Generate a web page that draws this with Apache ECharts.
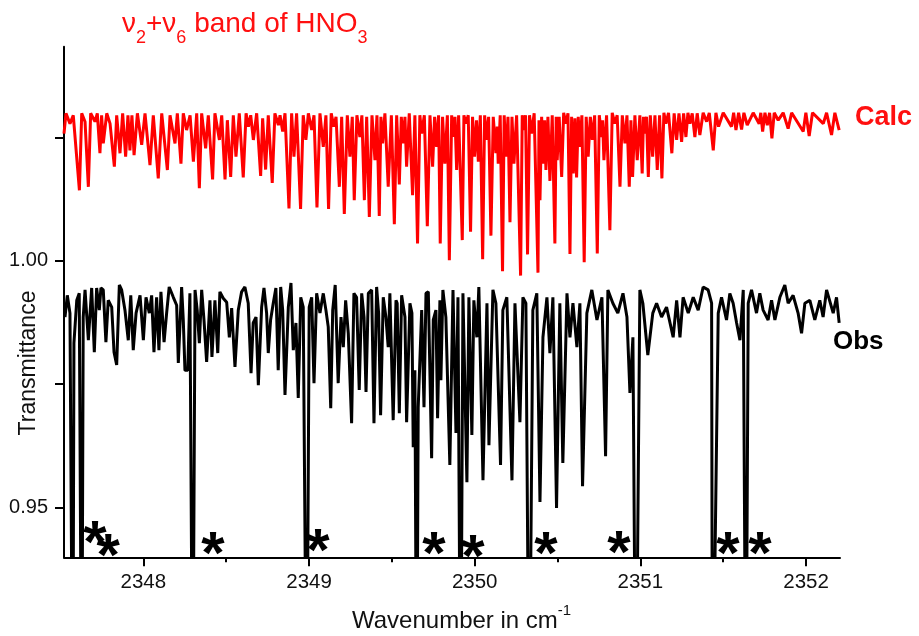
<!DOCTYPE html>
<html>
<head>
<meta charset="utf-8">
<script src="https://cdn.jsdelivr.net/npm/echarts@6/dist/echarts.min.js"></script>
<style>
html,body{margin:0;padding:0;background:#fff;}
#chart{width:919px;height:636px;}
</style>
</head>
<body>
<div id="chart"></div>
<script>
// ---- data (wavenumber in cm-1, transmittance) ----
const xMajorTicks = [2348, 2349, 2350, 2351, 2352];
const xMinorTicks = [2348.5, 2349.5, 2350.5, 2351.5];
const yTicks = [0.95, 0.975, 1.0, 1.025];
const yTickLabels = [0.95, 1.0];

const calcSpectrum = [
[2347.521,1.0258],[2347.533,1.0299],[2347.557,1.0278],[2347.577,1.0295],[2347.614,1.0143],[2347.628,1.0299],[2347.648,1.0282],[2347.668,1.0150],
[2347.682,1.0299],[2347.708,1.0282],[2347.722,1.0299],[2347.738,1.0218],[2347.748,1.0295],[2347.758,1.0238],[2347.779,1.0299],[2347.799,1.0278],
[2347.825,1.0191],[2347.839,1.0295],[2347.859,1.0218],[2347.875,1.0299],[2347.893,1.0211],[2347.907,1.0295],[2347.919,1.0224],[2347.931,1.0295],
[2347.944,1.0214],[2347.964,1.0299],[2347.990,1.0235],[2348.010,1.0299],[2348.040,1.0194],[2348.060,1.0295],[2348.090,1.0167],[2348.111,1.0299],
[2348.145,1.0184],[2348.161,1.0295],[2348.191,1.0238],[2348.205,1.0299],[2348.227,1.0197],[2348.241,1.0299],[2348.261,1.0265],[2348.282,1.0295],
[2348.302,1.0201],[2348.322,1.0299],[2348.338,1.0147],[2348.352,1.0299],[2348.376,1.0228],[2348.392,1.0295],[2348.418,1.0165],[2348.432,1.0299],
[2348.459,1.0245],[2348.473,1.0295],[2348.493,1.0165],[2348.507,1.0285],[2348.527,1.0170],[2348.543,1.0295],[2348.559,1.0211],[2348.579,1.0299],
[2348.603,1.0169],[2348.620,1.0299],[2348.634,1.0272],[2348.648,1.0295],[2348.664,1.0245],[2348.684,1.0299],[2348.708,1.0172],[2348.720,1.0289],
[2348.738,1.0185],[2348.754,1.0295],[2348.778,1.0158],[2348.794,1.0299],[2348.815,1.0275],[2348.825,1.0295],[2348.841,1.0262],[2348.855,1.0299],
[2348.879,1.0106],[2348.895,1.0299],[2348.909,1.0211],[2348.925,1.0299],[2348.949,1.0105],[2348.965,1.0295],[2348.981,1.0245],[2348.996,1.0299],
[2349.016,1.0265],[2349.030,1.0295],[2349.048,1.0108],[2349.066,1.0299],[2349.086,1.0231],[2349.102,1.0295],[2349.118,1.0105],[2349.134,1.0299],
[2349.150,1.0272],[2349.163,1.0292],[2349.183,1.0150],[2349.197,1.0292],[2349.213,1.0095],[2349.231,1.0295],[2349.247,1.0211],[2349.261,1.0292],
[2349.273,1.0123],[2349.289,1.0295],[2349.307,1.0251],[2349.319,1.0295],[2349.334,1.0123],[2349.348,1.0292],[2349.364,1.0089],[2349.380,1.0295],
[2349.398,1.0204],[2349.410,1.0295],[2349.424,1.0091],[2349.434,1.0292],[2349.444,1.0238],[2349.458,1.0299],[2349.478,1.0150],[2349.497,1.0295],
[2349.515,1.0074],[2349.529,1.0295],[2349.545,1.0155],[2349.557,1.0292],[2349.569,1.0238],[2349.579,1.0292],[2349.589,1.0191],[2349.605,1.0299],
[2349.625,1.0133],[2349.639,1.0295],[2349.655,1.0035],[2349.669,1.0295],[2349.680,1.0258],[2349.696,1.0295],[2349.714,1.0070],[2349.730,1.0295],
[2349.746,1.0191],[2349.758,1.0292],[2349.770,1.0231],[2349.782,1.0295],[2349.792,1.0035],[2349.806,1.0292],[2349.820,1.0197],[2349.835,1.0295],
[2349.847,1.0001],[2349.861,1.0295],[2349.871,1.0251],[2349.881,1.0292],[2349.891,1.0184],[2349.903,1.0295],
[2349.925,1.0042],[2349.935,1.0295],[2349.947,1.0278],[2349.961,1.0295],[2349.975,1.0059],[2349.987,1.0292],[2349.999,1.0211],[2350.011,1.0285],
[2350.022,1.0201],[2350.034,1.0295],[2350.048,1.0003],[2350.060,1.0295],[2350.072,1.0245],[2350.084,1.0292],[2350.098,1.0051],[2350.112,1.0292],
[2350.128,1.0218],[2350.136,1.0272],[2350.142,1.0197],[2350.154,1.0295],[2350.168,0.9979],[2350.178,1.0295],[2350.189,1.0211],[2350.201,1.0292],
[2350.213,1.0078],[2350.225,1.0292],[2350.237,1.0197],[2350.253,1.0295],[2350.277,0.9970],[2350.287,1.0295],[2350.297,1.0265],[2350.307,1.0295],
[2350.319,1.0013],[2350.331,1.0295],[2350.343,1.0258],[2350.359,1.0299],[2350.382,0.9976],[2350.388,1.0285],[2350.394,1.0123],[2350.404,1.0292],
[2350.414,1.0197],[2350.422,1.0285],[2350.430,1.0184],[2350.442,1.0292],[2350.454,1.0162],[2350.468,1.0295],[2350.484,1.0035],[2350.492,1.0292],
[2350.498,1.0204],[2350.510,1.0292],[2350.525,1.0170],[2350.537,1.0300],[2350.551,1.0278],[2350.563,1.0299],[2350.575,1.0014],[2350.585,1.0292],
[2350.595,1.0177],[2350.605,1.0289],[2350.615,1.0169],[2350.625,1.0292],[2350.635,1.0231],[2350.647,1.0295],[2350.661,0.9997],[2350.673,1.0292],
[2350.685,1.0211],[2350.698,1.0292],[2350.710,1.0245],[2350.724,1.0295],[2350.740,1.0015],[2350.752,1.0295],[2350.766,1.0251],[2350.772,1.0285],
[2350.780,1.0204],[2350.796,1.0295],[2350.816,1.0062],[2350.830,1.0300],[2350.846,1.0278],[2350.860,1.0295],[2350.877,1.0150],[2350.891,1.0295],
[2350.907,1.0238],[2350.919,1.0295],[2350.933,1.0150],[2350.943,1.0285],[2350.953,1.0170],[2350.967,1.0295],[2350.981,1.0204],[2350.997,1.0295],
[2351.011,1.0177],[2351.019,1.0292],[2351.027,1.0258],[2351.037,1.0292],[2351.048,1.0170],[2351.060,1.0295],[2351.074,1.0211],[2351.088,1.0295],
[2351.102,1.0184],[2351.116,1.0295],[2351.130,1.0167],[2351.142,1.0300],[2351.154,1.0278],[2351.170,1.0300],[2351.190,1.0218],[2351.204,1.0299],
[2351.219,1.0245],[2351.233,1.0299],[2351.249,1.0241],[2351.261,1.0299],[2351.275,1.0251],[2351.287,1.0300],[2351.299,1.0278],[2351.313,1.0299],
[2351.329,1.0251],[2351.343,1.0299],[2351.359,1.0255],[2351.379,1.0300],[2351.400,1.0282],[2351.416,1.0300],[2351.440,1.0224],[2351.456,1.0300],
[2351.472,1.0272],[2351.500,1.0300],[2351.550,1.0272],[2351.563,1.0300],[2351.577,1.0265],[2351.593,1.0300],[2351.611,1.0266],[2351.625,1.0300],
[2351.645,1.0275],[2351.681,1.0300],[2351.717,1.0278],[2351.727,1.0300],[2351.738,1.0262],[2351.752,1.0300],[2351.766,1.0275],[2351.780,1.0300],
[2351.794,1.0248],[2351.808,1.0300],[2351.832,1.0285],[2351.862,1.0300],[2351.892,1.0268],[2351.913,1.0300],[2351.983,1.0262],[2351.999,1.0300],
[2352.019,1.0253],[2352.039,1.0300],[2352.104,1.0278],[2352.124,1.0300],[2352.154,1.0255],[2352.174,1.0300],[2352.200,1.0265]
];

const obsSpectrum = [
[2347.527,0.9886],[2347.541,0.9930],[2347.557,0.9894],[2347.574,0.9000],[2347.581,0.9833],[2347.598,0.9920],[2347.613,0.9934],[2347.628,0.9000],
[2347.637,0.9886],[2347.648,0.9941],[2347.668,0.9839],[2347.688,0.9945],[2347.704,0.9815],[2347.718,0.9945],[2347.734,0.9900],[2347.744,0.9945],
[2347.758,0.9941],[2347.774,0.9835],[2347.788,0.9920],[2347.809,0.9906],[2347.823,0.9815],[2347.839,0.9789],[2347.855,0.9951],[2347.869,0.9941],
[2347.889,0.9900],[2347.909,0.9839],[2347.924,0.9930],[2347.939,0.9819],[2347.956,0.9894],[2347.980,0.9930],[2348.000,0.9839],[2348.016,0.9926],
[2348.036,0.9894],[2348.050,0.9930],[2348.064,0.9815],[2348.080,0.9926],[2348.094,0.9819],[2348.106,0.9937],[2348.125,0.9835],[2348.141,0.9896],
[2348.156,0.9947],[2348.181,0.9926],[2348.201,0.9910],[2348.211,0.9793],[2348.231,0.9947],[2348.241,0.9880],[2348.251,0.9778],[2348.268,0.9778],
[2348.281,0.9934],[2348.298,0.9000],[2348.312,0.9941],[2348.325,0.9900],[2348.338,0.9833],[2348.352,0.9941],[2348.366,0.9880],[2348.382,0.9795],
[2348.402,0.9920],[2348.414,0.9805],[2348.432,0.9920],[2348.449,0.9813],[2348.462,0.9937],[2348.482,0.9924],[2348.503,0.9916],[2348.519,0.9845],
[2348.533,0.9904],[2348.553,0.9785],[2348.573,0.9900],[2348.593,0.9937],[2348.613,0.9947],[2348.633,0.9914],[2348.650,0.9772],[2348.663,0.9874],
[2348.680,0.9886],[2348.694,0.9748],[2348.714,0.9906],[2348.728,0.9945],[2348.744,0.9894],[2348.754,0.9813],[2348.768,0.9880],[2348.784,0.9914],
[2348.800,0.9945],[2348.814,0.9778],[2348.829,0.9947],[2348.841,0.9900],[2348.855,0.9728],[2348.875,0.9906],[2348.891,0.9955],[2348.905,0.9819],
[2348.921,0.9874],[2348.935,0.9722],[2348.950,0.9926],[2348.965,0.9906],[2348.986,0.9000],[2349.001,0.9906],[2349.016,0.9926],[2349.030,0.9752],
[2349.046,0.9934],[2349.066,0.9894],[2349.086,0.9934],[2349.102,0.9900],[2349.116,0.9866],[2349.131,0.9701],[2349.143,0.9900],[2349.158,0.9951],
[2349.176,0.9752],[2349.193,0.9886],[2349.207,0.9825],[2349.221,0.9920],[2349.237,0.9853],[2349.257,0.9671],[2349.271,0.9934],[2349.287,0.9926],
[2349.303,0.9738],[2349.318,0.9934],[2349.332,0.9886],[2349.344,0.9734],[2349.358,0.9934],[2349.378,0.9941],[2349.392,0.9671],[2349.408,0.9947],
[2349.420,0.9894],[2349.432,0.9687],[2349.448,0.9926],[2349.464,0.9886],[2349.478,0.9825],[2349.488,0.9934],[2349.508,0.9677],[2349.525,0.9920],
[2349.532,0.9914],[2349.545,0.9691],[2349.559,0.9930],[2349.579,0.9886],[2349.589,0.9673],[2349.609,0.9914],[2349.621,0.9894],[2349.629,0.9622],
[2349.639,0.9778],[2349.650,0.9000],[2349.659,0.9703],[2349.680,0.9900],[2349.694,0.9703],[2349.706,0.9934],[2349.720,0.9937],[2349.740,0.9600],
[2349.750,0.9880],[2349.766,0.9900],[2349.776,0.9681],[2349.790,0.9920],[2349.796,0.9758],[2349.808,0.9941],[2349.826,0.9886],[2349.850,0.9586],
[2349.869,0.9941],[2349.887,0.9651],[2349.899,0.9926],[2349.915,0.9000],[2349.929,0.9934],[2349.953,0.9551],[2349.965,0.9926],[2349.983,0.9647],
[2349.995,0.9920],[2350.013,0.9845],[2350.025,0.9947],[2350.050,0.9555],[2350.074,0.9914],[2350.086,0.9626],[2350.110,0.9941],[2350.128,0.9914],
[2350.156,0.9586],[2350.170,0.9900],[2350.194,0.9926],[2350.225,0.9555],[2350.243,0.9914],[2350.273,0.9673],[2350.291,0.9926],[2350.309,0.9914],
[2350.329,0.9000],[2350.351,0.9900],[2350.375,0.9934],[2350.394,0.9511],[2350.412,0.9845],[2350.436,0.9926],[2350.454,0.9813],[2350.472,0.9926],
[2350.494,0.9499],[2350.514,0.9914],[2350.532,0.9590],[2350.557,0.9934],[2350.575,0.9845],[2350.593,0.9914],[2350.617,0.9825],[2350.635,0.9914],
[2350.651,0.9543],[2350.677,0.9894],[2350.707,0.9941],[2350.738,0.9880],[2350.768,0.9926],[2350.790,0.9604],[2350.804,0.9941],[2350.834,0.9914],
[2350.864,0.9894],[2350.895,0.9934],[2350.919,0.9886],[2350.937,0.9732],[2350.955,0.9845],[2350.973,0.9000],[2350.997,0.9941],[2351.015,0.9914],
[2351.045,0.9809],[2351.075,0.9894],[2351.098,0.9914],[2351.128,0.9886],[2351.158,0.9906],[2351.198,0.9845],[2351.219,0.9920],[2351.239,0.9845],
[2351.258,0.9926],[2351.289,0.9894],[2351.319,0.9926],[2351.349,0.9900],[2351.379,0.9947],[2351.409,0.9941],[2351.430,0.9914],[2351.435,0.9000],
[2351.447,0.9000],[2351.470,0.9894],[2351.490,0.9926],[2351.520,0.9880],[2351.540,0.9934],[2351.560,0.9914],[2351.581,0.9874],[2351.601,0.9839],
[2351.621,0.9941],[2351.637,0.9000],[2351.651,0.9914],[2351.671,0.9941],[2351.701,0.9894],[2351.721,0.9934],[2351.741,0.9900],[2351.771,0.9880],
[2351.792,0.9920],[2351.812,0.9880],[2351.842,0.9926],[2351.872,0.9951],[2351.892,0.9914],[2351.922,0.9930],[2351.952,0.9894],[2351.973,0.9853],
[2351.993,0.9914],[2352.023,0.9920],[2352.053,0.9880],[2352.083,0.9920],[2352.103,0.9886],[2352.124,0.9941],[2352.164,0.9894],[2352.184,0.9926],
[2352.200,0.9874]
];

// asterisk markers (line positions flagged in the observed spectrum)
const starWavenumber = [2347.708, 2347.787, 2348.420, 2349.054, 2349.754, 2349.989, 2350.430, 2350.870, 2351.528, 2351.721];
const starLevel      = [0.9451, 0.9425, 0.9429, 0.9435, 0.9429, 0.9423, 0.9429, 0.9431, 0.9429, 0.9429];

const titleParts = ['ν', '2', '+ν', '6', ' band of HNO', '3'];
const calcLabel = 'Calc';
const obsLabel = 'Obs';
const yName = 'Transmittance';
const xNameParts = ['Wavenumber in cm', '-1'];

// ---- chart ----
const FONT = '"Liberation Sans", Arial, Helvetica, sans-serif';
const chart = echarts.init(document.getElementById('chart'), null, {renderer: 'canvas'});

const mctx = document.createElement('canvas').getContext('2d');
function tw(text, size, weight) {
  mctx.font = (weight || 'normal') + ' ' + size + 'px ' + FONT;
  return mctx.measureText(text).width;
}
function chunks(list, x0, y0, color, weight) {
  const out = [];
  let x = x0;
  list.forEach(c => {
    out.push({type: 'text', x: x, y: y0 + c.dy, silent: true,
      style: {text: c.t, fill: color, font: (weight || 'normal') + ' ' + c.fs + 'px ' + FONT,
        align: 'left', verticalAlign: 'middle'}});
    x += tw(c.t, c.fs, weight);
  });
  return out;
}

const graphics = [].concat(
  chunks([
    {t: titleParts[0], fs: 28, dy: 0}, {t: titleParts[1], fs: 18, dy: 14},
    {t: titleParts[2], fs: 28, dy: 0}, {t: titleParts[3], fs: 18, dy: 14},
    {t: titleParts[4], fs: 28, dy: 0}, {t: titleParts[5], fs: 18, dy: 14}
  ], 122, 24, '#ff1010'),
  chunks([{t: xNameParts[0], fs: 24, dy: 0}, {t: xNameParts[1], fs: 15, dy: -10}], 352, 621, '#111'),
  [
    {type: 'text', x: 855, y: 117.5, silent: true,
      style: {text: calcLabel, fill: '#ff1010', font: 'bold 27px ' + FONT, align: 'left', verticalAlign: 'middle'}},
    {type: 'text', x: 833, y: 342, silent: true,
      style: {text: obsLabel, fill: '#000', font: 'bold 26px ' + FONT, align: 'left', verticalAlign: 'middle'}},
    {type: 'text', x: 29, y: 363, rotation: Math.PI / 2, silent: true,
      style: {text: yName, fill: '#111', font: 'normal 23px ' + FONT, align: 'center', verticalAlign: 'middle'}}
  ]
);

const X_MIN = 2347.521, X_MAX = 2352.205;

const option = {
  animation: false,
  backgroundColor: '#ffffff',
  grid: {left: 64, right: 79, top: 46.7, bottom: 78.7, containLabel: false, outerBoundsMode: 'none'},
  xAxis: [
    {
      type: 'value', min: X_MIN, max: X_MAX, position: 'bottom',
      axisLine: {show: true, onZero: false, lineStyle: {color: '#000', width: 2}},
      axisTick: {show: true, customValues: xMajorTicks, length: 9, inside: false, lineStyle: {color: '#000', width: 2}},
      axisLabel: {show: true, customValues: xMajorTicks, margin: 15, color: '#111', fontSize: 20.5, fontFamily: FONT,
        formatter: v => String(Math.round(v))},
      splitLine: {show: false}
    },
    {
      type: 'value', min: X_MIN, max: X_MAX, position: 'bottom', gridIndex: 0,
      axisLine: {show: false, onZero: false},
      axisTick: {show: true, customValues: xMinorTicks, length: 5, inside: false, lineStyle: {color: '#000', width: 2}},
      axisLabel: {show: false},
      splitLine: {show: false}
    }
  ],
  yAxis: {
    type: 'value', min: 0.9399, max: 1.0434,
    axisLine: {show: true, onZero: false, lineStyle: {color: '#000', width: 2}},
    axisTick: {show: true, customValues: yTicks, length: 9, inside: false, lineStyle: {color: '#000', width: 2}},
    axisLabel: {show: true, customValues: yTickLabels, margin: 16, color: '#111', fontSize: 20, fontFamily: FONT,
      formatter: v => v.toFixed(2)},
    splitLine: {show: false}
  },
  graphic: graphics,
  series: [
    {
      name: 'Calc', type: 'line', xAxisIndex: 0, data: calcSpectrum, showSymbol: false, symbol: 'none',
      lineStyle: {color: '#ff0000', width: 3}, clip: true, silent: true, z: 3,
      emphasis: {disabled: true}
    },
    {
      name: 'Obs', type: 'line', xAxisIndex: 0, data: obsSpectrum, showSymbol: false, symbol: 'none',
      lineStyle: {color: '#000000', width: 3}, clip: true, silent: true, z: 3,
      emphasis: {disabled: true}
    },
    {
      name: 'marks', type: 'scatter', xAxisIndex: 0,
      data: starWavenumber.map((x, i) => [x, starLevel[i]]),
      symbolSize: 0, itemStyle: {color: '#000', opacity: 1}, silent: true, z: 4,
      label: {show: true, position: 'inside', formatter: '*', color: '#000', opacity: 1, fontSize: 60, fontWeight: 'bold',
        fontFamily: FONT, offset: [0, 14], textBorderWidth: 0, textShadowBlur: 0},
      emphasis: {disabled: true}
    }
  ]
};
chart.setOption(option);
</script>
</body>
</html>
